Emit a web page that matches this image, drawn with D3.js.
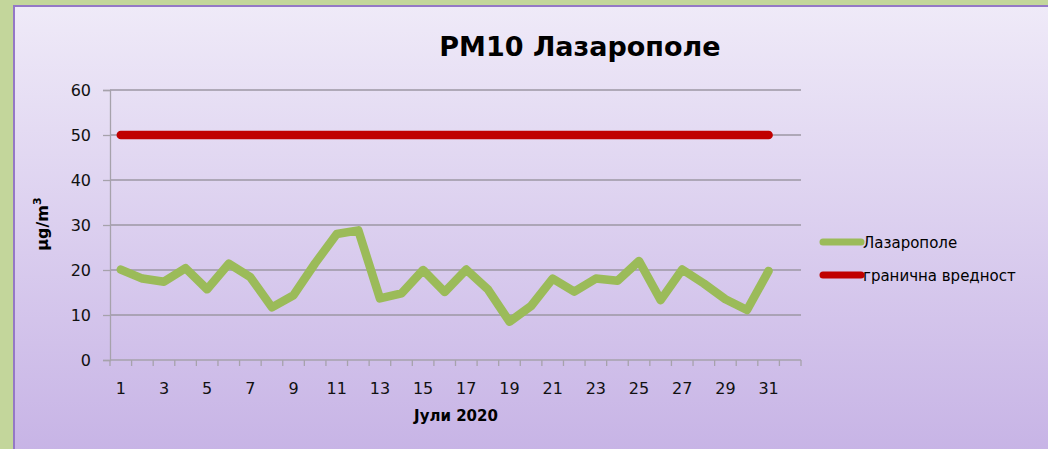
<!DOCTYPE html>
<html>
<head>
<meta charset="utf-8">
<script src="https://cdn.jsdelivr.net/npm/d3@7"></script>
<style>
  html, body { margin: 0; padding: 0; background: #c3d69b; }
  svg { display: block; }
</style>
</head>
<body>
<svg id="chart" width="1048" height="449"></svg>
<script>
// PM10 daily averages, Lazaropole, July 2020
const days = d3.range(1, 33);            // 32 slots on the category axis
const pm10 = [20.1, 18.1, 17.4, 20.4, 15.7, 21.4, 18.4, 11.7, 14.4, 21.5,
              28.0, 28.8, 13.7, 14.8, 20.0, 15.1, 20.1, 15.7, 8.5, 12.0,
              18.1, 15.2, 18.1, 17.6, 22.0, 13.3, 20.1, 17.0, 13.5, 11.1, 19.8];
const limit = 50;
const yTicks = [0, 10, 20, 30, 40, 50, 60];
const seriesNames = ["Лазарополе", "гранична вредност"];
const seriesColors = ["#9bbb59", "#c00000"];

const font = "'Comic Sans MS', 'DejaVu Sans', sans-serif";
const svg = d3.select("#chart");

// chart-area background with a vertical lavender gradient
const defs = svg.append("defs");
const grad = defs.append("linearGradient").attr("id", "bg").attr("x1", 0).attr("y1", 0).attr("x2", 0).attr("y2", 1);
grad.append("stop").attr("offset", "0%").attr("stop-color", "#efeaf8");
grad.append("stop").attr("offset", "100%").attr("stop-color", "#c6b2e5");

svg.append("rect").attr("x", 14).attr("y", 6).attr("width", 1048).attr("height", 460)
  .attr("fill", "url(#bg)").attr("stroke", "#9478c6").attr("stroke-width", 2);

const plot = { left: 110, right: 801, top: 90, bottom: 360 };

const x = d3.scaleBand().domain(days).range([plot.left, plot.right]).paddingInner(0).paddingOuter(0);
const y = d3.scaleLinear().domain([0, 60]).range([plot.bottom, plot.top]);
const cx = d => x(d) + x.bandwidth() / 2;

// horizontal gridlines
svg.append("g").selectAll("line").data(yTicks.slice(1)).join("line")
  .attr("x1", plot.left).attr("x2", plot.right)
  .attr("y1", d => y(d)).attr("y2", d => y(d))
  .attr("stroke", "#9c97a3").attr("stroke-width", 1.3);

// y axis
const yAxis = svg.append("g").attr("transform", `translate(${plot.left},0)`)
  .call(d3.axisLeft(y).tickValues(yTicks).tickSize(7).tickPadding(12));
yAxis.select(".domain").attr("stroke", "#a6a2ab").attr("stroke-width", 1.3);
yAxis.selectAll(".tick line").attr("stroke", "#a6a2ab").attr("stroke-width", 1.3);
yAxis.selectAll("text").attr("font-family", font).attr("font-size", 16).attr("fill", "#111");

// x axis: tick marks between categories, labels on every other day
const xAxis = svg.append("g").attr("transform", `translate(0,${plot.bottom})`);
const bounds = days.map(d => x(d)).concat([plot.right]);
xAxis.append("line").attr("x1", plot.left).attr("x2", plot.right)
  .attr("y1", 0).attr("y2", 0).attr("stroke", "#a6a2ab").attr("stroke-width", 1.3);
xAxis.selectAll("line.t").data(bounds).join("line").attr("class", "t")
  .attr("x1", d => d).attr("x2", d => d).attr("y1", 0).attr("y2", 6)
  .attr("stroke", "#a6a2ab").attr("stroke-width", 1.3);
xAxis.selectAll("text").data(days.filter(d => d % 2 === 1)).join("text")
  .attr("x", d => cx(d)).attr("y", 34)
  .attr("text-anchor", "middle")
  .attr("font-family", font).attr("font-size", 16).attr("fill", "#111")
  .text(d => d);

// limit value line
const line = d3.line().x(d => cx(d[0])).y(d => y(d[1]));
const limitData = days.slice(0, pm10.length).map(d => [d, limit]);
svg.append("path").datum(limitData).attr("d", line)
  .attr("fill", "none").attr("stroke", seriesColors[1]).attr("stroke-width", 8.5)
  .attr("stroke-linecap", "round");

// measured series
const pmData = pm10.map((v, i) => [days[i], v]);
svg.append("path").datum(pmData).attr("d", line)
  .attr("fill", "none").attr("stroke", seriesColors[0]).attr("stroke-width", 8.5)
  .attr("stroke-linejoin", "round").attr("stroke-linecap", "round");

// title
svg.append("text").attr("x", 580).attr("y", 56).attr("text-anchor", "middle")
  .attr("font-family", font).attr("font-weight", "bold").attr("font-size", 27).attr("fill", "#000")
  .text("PM10 Лазарополе");

// axis titles
svg.append("text").attr("transform", "translate(48,224) rotate(-90)").attr("text-anchor", "middle")
  .attr("font-family", "'DejaVu Sans', sans-serif").attr("font-weight", "bold").attr("font-size", 16).attr("fill", "#000")
  .html("µg/m<tspan dy='-7' font-size='11'>3</tspan>");

svg.append("text").attr("x", 456).attr("y", 421).attr("text-anchor", "middle")
  .attr("font-family", font).attr("font-weight", "bold").attr("font-size", 15).attr("fill", "#000")
  .text("Јули 2020");

// legend
const legend = svg.append("g").selectAll("g").data(seriesNames).join("g")
  .attr("transform", (d, i) => `translate(823,${242 + i * 33})`);
legend.append("line").attr("x1", 0).attr("x2", 38).attr("y1", 0).attr("y2", 0)
  .attr("stroke", (d, i) => seriesColors[i]).attr("stroke-width", 7).attr("stroke-linecap", "round");
legend.append("text").attr("x", 40).attr("y", 6)
  .attr("font-family", font).attr("font-size", 15).attr("fill", "#000")
  .text(d => d);
</script>
</body>
</html>
